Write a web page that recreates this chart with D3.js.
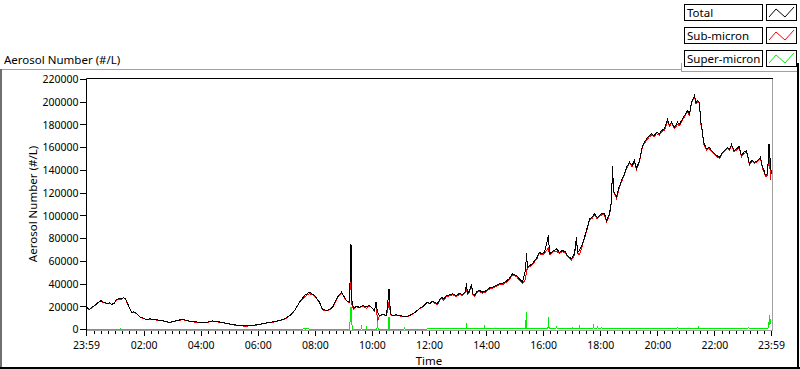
<!DOCTYPE html>
<html lang="en">
<head>
<meta charset="utf-8" />
<title>Aerosol Number</title>
<script src="https://cdn.jsdelivr.net/npm/d3@7"></script>
<style>
  body { margin: 0; background: #fff; }
  text { font-family: "Noto Sans", sans-serif; fill: #000; }
</style>
</head>
<body>
<svg id="chart" width="800" height="369"></svg>
<script>
// time in hours after midnight (23:59 of the day before = -1/60)
const times = [
  -0.017, 0.088, 0.17, 0.264, 0.38, 0.498, 0.56, 0.614, 0.719, 0.8,
  0.859, 0.95, 1.034, 1.174, 1.23, 1.280, 1.350, 1.455, 1.560, 1.64,
  1.735, 1.874, 1.98, 2.085, 2.2, 2.366, 2.5, 2.646, 2.891, 3.137,
  3.347, 3.592, 3.907, 4.153, 4.398, 4.643, 4.924, 5.204, 5.519, 5.764,
  6.010, 6.255, 6.500, 6.745, 6.955, 7.131, 7.271, 7.446, 7.621, 7.796,
  7.972, 8.147, 8.252, 8.427, 8.602, 8.777, 8.917, 9.092, 9.198, 9.250,
  9.285, 9.338, 9.45, 9.548, 9.67, 9.793, 9.88, 9.969, 10.074, 10.127,
  10.179, 10.249, 10.37, 10.494, 10.582, 10.634, 10.704, 10.82, 10.950, 11.07,
  11.195, 11.30, 11.405, 11.52, 11.650, 11.78, 11.931, 12.02, 12.106, 12.2,
  12.281, 12.35, 12.421, 12.5, 12.596, 12.7, 12.807, 12.93, 13.052, 13.15,
  13.262, 13.297, 13.332, 13.40, 13.472, 13.52, 13.577, 13.66, 13.753, 13.87,
  13.998, 14.1, 14.208, 14.33, 14.453, 14.58, 14.698, 14.8, 14.909, 15.049,
  15.15, 15.259, 15.364, 15.399, 15.434, 15.52, 15.610, 15.68, 15.750, 15.855,
  15.94, 16.030, 16.170, 16.205, 16.33, 16.450, 16.55, 16.661, 16.75, 16.836,
  16.976, 17.081, 17.151, 17.186, 17.256, 17.361, 17.502, 17.607, 17.7, 17.782,
  17.88, 17.957, 18.05, 18.132, 18.203, 18.308, 18.378, 18.413, 18.448, 18.553,
  18.64, 18.728, 18.82, 18.903, 19.008, 19.1, 19.183, 19.254, 19.359, 19.464,
  19.604, 19.7, 19.780, 19.87, 19.955, 20.05, 20.130, 20.235, 20.340, 20.41,
  20.480, 20.585, 20.690, 20.76, 20.831, 20.936, 21.041, 21.11, 21.181, 21.286,
  21.34, 21.391, 21.462, 21.497, 21.567, 21.602, 21.706, 21.8, 21.882, 21.97,
  22.057, 22.162, 22.267, 22.35, 22.442, 22.51, 22.582, 22.67, 22.758, 22.85,
  22.933, 23.02, 23.108, 23.213, 23.3, 23.388, 23.493, 23.598, 23.669, 23.72,
  23.774, 23.844, 23.897, 23.949, 23.983
];
const total = [
  19600, 17600, 19500, 21100, 23500, 25500, 24000, 23800, 22900, 23600,
  22000, 23000, 26400, 27500, 27000, 28200, 26800, 21100, 15200, 15500,
  14100, 10800, 9900, 8800, 9400, 8800, 8300, 7900, 6200, 7900,
  8800, 7300, 6400, 6200, 7500, 6600, 5300, 4000, 3100, 3500,
  4400, 5700, 6600, 7900, 9700, 12800, 16700, 24000, 29900, 32800,
  29900, 24000, 17600, 16700, 19400, 28400, 32800, 25500, 24000, 74800,
  25500, 18500, 20500, 19400, 21000, 20200, 21200, 19600, 16700, 23800,
  15000, 12300, 13500, 12300, 35200, 14100, 12300, 13000, 12300, 11600,
  11400, 12200, 13800, 15600, 18500, 20500, 24000, 22800, 24900, 23500,
  22900, 26000, 28400, 26800, 29900, 30500, 31400, 29800, 31900, 30600,
  33400, 40500, 31700, 34000, 39600, 31500, 29900, 33500, 34300, 32800,
  34300, 36500, 37200, 38800, 40200, 40800, 42500, 45000, 49000, 47500,
  44500, 41600, 51900, 66900, 54600, 56500, 57800, 60500, 62500, 68000,
  66500, 68000, 82700, 66600, 69000, 71000, 68000, 69500, 68500, 65100,
  62200, 66600, 81200, 67800, 69500, 75400, 87100, 97400, 99000, 101800,
  98500, 100300, 102500, 101800, 95900, 101800, 113500, 144300, 122300, 116400,
  125000, 131100, 136500, 142800, 147200, 144500, 148700, 141700, 148700, 161900,
  167800, 170500, 172200, 170500, 173600, 172000, 175100, 176600, 184500, 180000,
  182400, 178000, 182400, 180500, 183900, 188300, 192700, 189500, 200000, 205900,
  199500, 201500, 200000, 183900, 173600, 164800, 159000, 160500, 157500, 155500,
  153100, 151600, 156000, 158000, 160400, 158500, 162800, 157500, 159000, 161000,
  153100, 156000, 157500, 145800, 149000, 147200, 148700, 151600, 142800, 140000,
  135500, 137000, 163400, 144300, 137000
];
const superTimes = [
  -0.017, 1.15, 1.17, 1.19, 7.55, 7.6, 7.65, 7.75, 7.8,
  9.2, 9.25, 9.285, 9.3, 9.6, 9.618, 9.64, 9.78, 9.793, 9.81,
  10.16, 10.179, 10.2, 10.56, 10.582, 10.605, 11.1, 11.12, 11.14,
  11.9, 12.2, 13.28, 13.297, 13.315, 13.91, 13.928, 13.945,
  15.35, 15.364, 15.38, 15.399, 15.415, 16.15, 16.17, 16.19,
  16.43, 16.45, 16.47, 16.98, 17.0, 17.02, 17.24, 17.256, 17.27,
  17.73, 17.747, 17.765, 17.87, 17.887, 17.905, 18.01, 18.027, 18.045,
  20.67, 20.69, 20.71, 21.4, 21.42, 21.44, 23.16, 23.18, 23.2,
  23.86, 23.88, 23.897, 23.915, 23.95, 23.983
];
const superVals = [
  200, 200, 900, 200, 200, 1200, 400, 1100, 300,
  300, 20000, 4000, 400, 300, 2200, 300, 300, 1500, 300,
  300, 7300, 300, 300, 11400, 300, 300, 1200, 300,
  400, 900, 900, 5500, 900, 900, 2600, 900,
  900, 7900, 1200, 15200, 900, 900, 10800, 900,
  1000, 2000, 1000, 1000, 1800, 1000, 1100, 3500, 1100,
  1100, 4400, 1100, 1100, 2000, 1100, 1100, 1800, 1100,
  1100, 1800, 1100, 1100, 2000, 1100, 1100, 1800, 1100,
  1100, 6400, 4000, 12300, 5000, 4500
];
const yTicks = [0, 20000, 40000, 60000, 80000, 100000, 120000, 140000, 160000, 180000, 200000, 220000];
const xMajor = [-1 / 60, 2, 4, 6, 8, 10, 12, 14, 16, 18, 20, 22, 24 - 1 / 60];
const xLabels = ["23:59", "02:00", "04:00", "06:00", "08:00", "10:00", "12:00", "14:00", "16:00", "18:00", "20:00", "22:00", "23:59"];
const names = ["Total", "Sub-micron", "Super-micron"];
const colors = ["#000000", "#ff0000", "#00ee00"];

// sub-micron = total - super-micron
const superAt = t => superVals[Math.max(0, d3.bisectRight(superTimes, t) - 1)];
const sub = times.map((t, i) => total[i] - superAt(t));

const svg = d3.select("#chart");

// outer frame
const frame = [
  [0, 69.5, 681, 69.5, "#a0a0a0", 1],
  [681.5, 63, 681.5, 72, "#a0a0a0", 1],
  [681, 71.5, 797, 71.5, "#a0a0a0", 1],
  [1, 69, 1, 369, "#707070", 2],
  [0, 368, 800, 368, "#000", 2],
  [798, 63, 798, 369, "#000", 2]
];
svg.selectAll(".frame").data(frame).enter().append("line")
  .attr("x1", d => d[0]).attr("y1", d => d[1])
  .attr("x2", d => d[2]).attr("y2", d => d[3])
  .attr("stroke", d => d[4]).attr("stroke-width", d => d[5]);

svg.append("text").attr("x", 4).attr("y", 64)
  .style("font-size", "11.5px").text("Aerosol Number (#/L)");

// legend
const leg = svg.selectAll(".leg").data(names).enter().append("g")
  .attr("transform", (d, i) => `translate(684,${4 + 23 * i})`);
leg.append("rect").attr("x", 0.5).attr("y", 0.5).attr("width", 78).attr("height", 16)
  .attr("fill", "#fff").attr("stroke", "#000");
leg.append("text").attr("x", 3).attr("y", 13).style("font-size", "11.5px").text(d => d);
leg.append("rect").attr("x", 82.5).attr("y", 0.5).attr("width", 30).attr("height", 16)
  .attr("fill", "#fff").attr("stroke", "#000");
leg.append("polyline")
  .attr("points", "85,13 92,5 101,13 110,3")
  .attr("fill", "none")
  .attr("stroke", (d, i) => colors[i]);

// plot
const x = d3.scaleLinear().domain([-1 / 60, 24 - 1 / 60]).range([86, 771]);
const y = d3.scaleLinear().domain([0, 220000]).range([329, 79]);

svg.append("clipPath").attr("id", "clip").append("rect")
  .attr("x", 86.5).attr("y", 78.5).attr("width", 685).attr("height", 251);

const line = d3.line().x(d => x(d[0])).y(d => y(d[1]));
const series = [
  { c: colors[2], d: superTimes.map((t, i) => [t, superVals[i]]) },
  { c: colors[1], d: times.map((t, i) => [t, sub[i]]) },
  { c: colors[0], d: times.map((t, i) => [t, total[i]]) }
];
svg.append("g").attr("transform", "translate(0.5,0.5)").attr("clip-path", "url(#clip)")
  .selectAll("path").data(series).enter().append("path")
  .attr("d", s => line(s.d))
  .attr("fill", "none")
  .attr("stroke", s => s.c)
  .attr("stroke-width", 1)
  .attr("shape-rendering", "crispEdges");

// plot frame
svg.append("path").attr("d", "M86.5,331V78.5H773").attr("fill", "none").attr("stroke", "#000");
svg.append("path").attr("d", "M87,330.5H772.5V79").attr("fill", "none").attr("stroke", "#a0a0a0");

// y axis
const yAxis = svg.append("g").attr("transform", "translate(86,0)")
  .call(d3.axisLeft(y).tickValues(yTicks).tickFormat(d3.format("d")).tickSize(6).tickPadding(1.5));
yAxis.select(".domain").remove();
yAxis.selectAll("text").style("font-size", "10.5px").attr("dy", "0.36em");

// x axis, minor ticks every 15 minutes
const minor = d3.range(0, 96).map(i => i / 4).filter(t => t % 2 !== 0);
const xMinor = svg.append("g").attr("transform", "translate(0,331)")
  .call(d3.axisBottom(x).tickValues(minor).tickFormat("").tickSize(3));
xMinor.select(".domain").remove();
const xAxis = svg.append("g").attr("transform", "translate(0,331)")
  .call(d3.axisBottom(x).tickValues(xMajor).tickFormat((d, i) => xLabels[i]).tickSize(5));
xAxis.select(".domain").remove();
xAxis.selectAll("text").style("font-size", "10.5px").attr("y", 17.5).attr("dy", "0");
svg.selectAll(".tick line").attr("shape-rendering", "crispEdges");

svg.append("text").attr("x", 429).attr("y", 365).attr("text-anchor", "middle")
  .style("font-size", "11.5px").text("Time");
svg.append("text").attr("transform", "translate(37,204) rotate(-90)").attr("text-anchor", "middle")
  .style("font-size", "11.5px").text("Aerosol Number (#/L)");
</script>
</body>
</html>
